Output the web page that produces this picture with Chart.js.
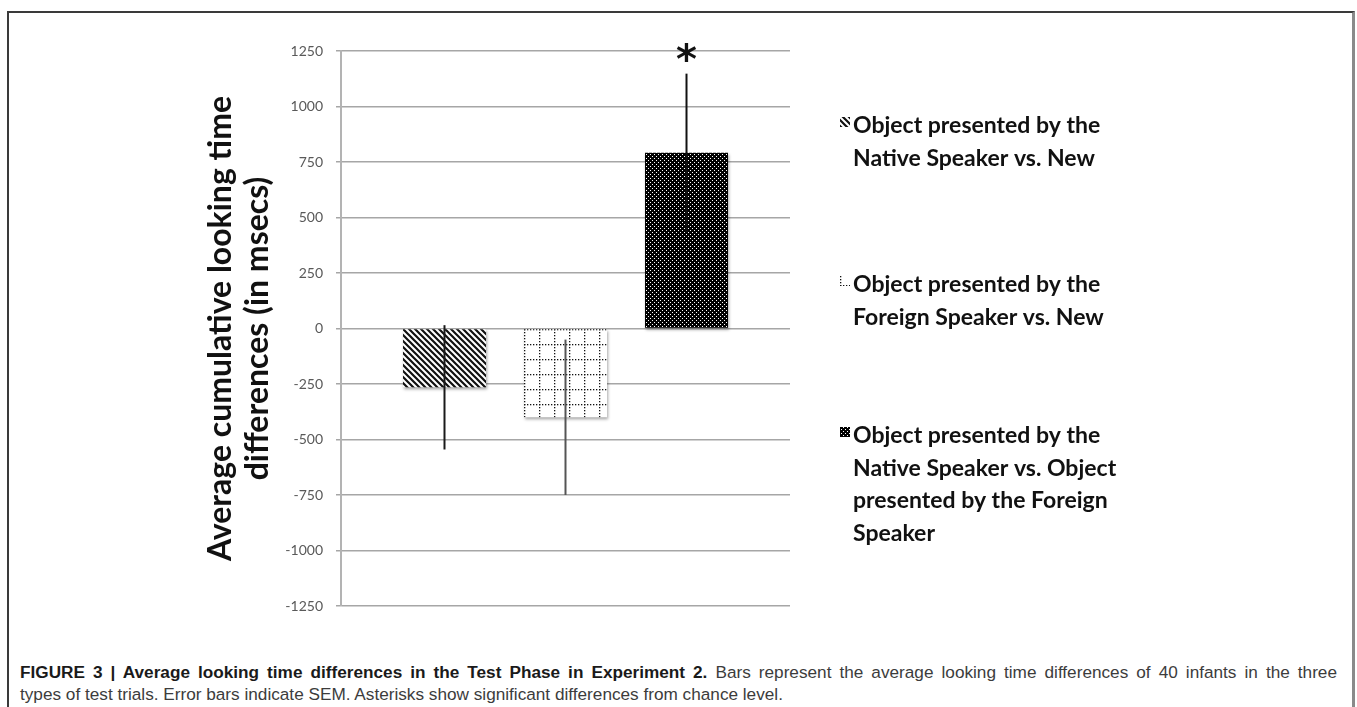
<!DOCTYPE html>
<html><head><meta charset="utf-8">
<script src="https://cdn.jsdelivr.net/npm/chart.js@4.4.0/dist/chart.umd.min.js"></script>
<style>
html,body{margin:0;padding:0;background:#fff;width:1357px;height:707px;overflow:hidden;}
#frame{position:absolute;left:7px;top:11px;width:1348px;height:720px;border-top:2px solid #3a3a3a;border-left:2px solid #3a3a3a;border-right:3px solid #8a8a8a;box-sizing:border-box;}
#wrap{position:absolute;left:0;top:0;width:1357px;height:640px;}
.cap{position:absolute;left:20px;font-family:"Liberation Sans",Arial,sans-serif;font-size:17.2px;line-height:22px;color:#3c3c3c;white-space:nowrap;}
#cap1{top:661px;}
#cap2{top:683px;}
.cap b{color:#1a1a1a;}
</style></head>
<body>
<div id="frame"></div>
<div id="wrap"><canvas id="c"></canvas></div>
<div class="cap" id="cap1"><b>FIGURE 3 | Average looking time differences in the Test Phase in Experiment 2.</b> Bars represent the average looking time differences of 40 infants in the three</div>
<div class="cap" id="cap2">types of test trials. Error bars indicate SEM. Asterisks show significant differences from chance level.</div>
<script>
// ---- data ----
const categories = [""];
const seriesLabels = [
  ["Object presented by the", "Native Speaker vs. New"],
  ["Object presented by the", "Foreign Speaker vs. New"],
  ["Object presented by the", "Native Speaker vs. Object", "presented by the Foreign", "Speaker"]
];
const meanValues = [-265, -400, 792];
const semValues = [280, 350, 356];
const significance = ["", "", "*"];
const yTickValues = [-1250, -1000, -750, -500, -250, 0, 250, 500, 750, 1000, 1250];
const yTitleLines = ["Average cumulative looking time", "differences (in msecs)"];

// fit caption line 1 to the frame width
(function () {
  const c1 = document.getElementById('cap1');
  const w = c1.getBoundingClientRect().width;
  const spaces = (c1.textContent.match(/ /g) || []).length;
  c1.style.wordSpacing = ((1317 - w) / spaces) + 'px';
})();

// ---- patterns ----
function makeStripes() {
  const c = document.createElement('canvas'); c.width = 6; c.height = 6;
  const x = c.getContext('2d');
  x.fillStyle = '#fff'; x.fillRect(0, 0, 6, 6);
  x.strokeStyle = '#111'; x.lineWidth = 2.2; x.beginPath();
  for (let k = -1; k <= 1; k++) { x.moveTo(k * 6 - 1, -1); x.lineTo(k * 6 + 7, 7); }
  x.stroke();
  return x.createPattern(c, 'repeat');
}
function makeGrid() {
  const s = 15;
  const c = document.createElement('canvas'); c.width = s; c.height = s;
  const x = c.getContext('2d');
  x.fillStyle = '#fff'; x.fillRect(0, 0, s, s);
  x.fillStyle = '#111';
  for (let i = 0; i < s; i += 3) { x.fillRect(i, 0, 1.3, 1.3); x.fillRect(0, i, 1.3, 1.3); }
  return x.createPattern(c, 'repeat');
}
function makeDots() {
  const c = document.createElement('canvas'); c.width = 4; c.height = 4;
  const x = c.getContext('2d');
  x.fillStyle = '#000'; x.fillRect(0, 0, 4, 4);
  x.fillStyle = '#fff';
  x.fillRect(1, 1, 1, 1); x.fillRect(3, 3, 1, 1);
  return x.createPattern(c, 'repeat');
}
const barPatterns = [makeStripes(), makeGrid(), makeDots()];
const legendPatterns = [makeStripes(), makeGrid(), makeDots()];
const errColors = ['#1a1a1a', '#555', '#111'];

const patternAlign = {
  id: 'patternAlign',
  beforeDatasetsDraw(chart) {
    chart.data.datasets.forEach((ds, i) => {
      const el = chart.getDatasetMeta(i).data[0];
      if (!el) return;
      const left = Math.round(el.x - el.width / 2);
      const top = Math.round(Math.min(el.y, el.base));
      barPatterns[i].setTransform(new DOMMatrix([1, 0, 0, 1, left, top]));
    });
  },
  beforeDatasetDraw(chart) {
    const ctx = chart.ctx; ctx.save();
    ctx.shadowColor = 'rgba(0,0,0,0.35)'; ctx.shadowBlur = 3; ctx.shadowOffsetX = 1; ctx.shadowOffsetY = 2;
  },
  afterDatasetDraw(chart) { chart.ctx.restore(); }
};

const errorBars = {
  id: 'errorBars',
  afterDatasetsDraw(chart) {
    const ctx = chart.ctx, ys = chart.scales.y;
    chart.data.datasets.forEach((ds, i) => {
      const el = chart.getDatasetMeta(i).data[0];
      const v = meanValues[i], s = semValues[i];
      const y1 = ys.getPixelForValue(v + s), y2 = ys.getPixelForValue(v - s);
      ctx.save();
      ctx.strokeStyle = errColors[i]; ctx.lineWidth = 2;
      ctx.beginPath(); ctx.moveTo(el.x, y1); ctx.lineTo(el.x, y2); ctx.stroke();
      if (significance[i]) {
        ctx.font = 'bold 40px "DejaVu Sans"';
        ctx.fillStyle = '#111'; ctx.textAlign = 'center'; ctx.textBaseline = 'alphabetic';
        const m = ctx.measureText(significance[i]);
        const cy = Math.min(y1, y2) - 22;
        const base = cy - (m.actualBoundingBoxDescent - m.actualBoundingBoxAscent) / 2;
        ctx.fillText(significance[i], el.x, base);
      }
      ctx.restore();
    });
  }
};

const sideLegend = {
  id: 'sideLegend',
  afterDraw(chart) {
    const ctx = chart.ctx;
    const baselines = [133, 292, 443];
    const lh = 32.5;
    ctx.save();
    ctx.font = 'bold 23px Lato';
    ctx.textBaseline = 'alphabetic'; ctx.textAlign = 'left';
    seriesLabels.forEach((lines, i) => {
      ctx.fillStyle = legendPatterns[i];
      ctx.fillRect(840, baselines[i] - 16, 10, 10);
      ctx.fillStyle = '#111';
      lines.forEach((t, j) => ctx.fillText(t, 853, baselines[i] + j * lh));
    });
    ctx.restore();
  }
};

new Chart(document.getElementById('c'), {
  type: 'bar',
  data: {
    labels: categories,
    datasets: seriesLabels.map((l, i) => ({
      label: l.join(' '),
      data: [meanValues[i]],
      backgroundColor: barPatterns[i],
      borderWidth: 0,
      categoryPercentage: 0.8085,
      barPercentage: 0.686
    }))
  },
  options: {
    responsive: true, maintainAspectRatio: false, animation: false,
    layout: { padding: { left: 202, right: 567, top: 51, bottom: 34 } },
    plugins: { legend: { display: false }, tooltip: { enabled: false } },
    scales: {
      x: { display: false },
      y: {
        min: -1250, max: 1250,
        afterBuildTicks(s) { s.ticks = yTickValues.map(v => ({ value: v })); },
        afterFit(s) { s.width = 139; },
        ticks: { font: { family: 'Lato', size: 14 }, color: '#595959', padding: 13, callback: v => String(v) },
        grid: { color: '#a6a6a6', lineWidth: 1.5, tickLength: 5, drawTicks: true },
        border: { color: '#b3b3b3', width: 2 },
        title: { display: true, text: yTitleLines, font: { family: 'Lato', size: 32, weight: 'bold', lineHeight: 1.16 }, color: '#111', padding: { top: 0, bottom: 0 } }
      }
    }
  },
  plugins: [patternAlign, errorBars, sideLegend]
});
</script>
</body></html>
